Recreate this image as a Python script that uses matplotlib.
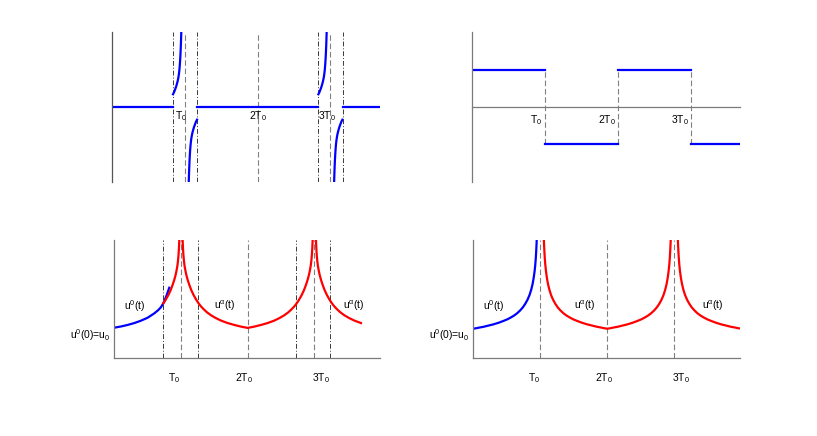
import numpy as np
import matplotlib.pyplot as plt

plt.rcParams['font.family'] = ['Liberation Sans', 'DejaVu Sans']
plt.rcParams['mathtext.fontset'] = 'custom'
plt.rcParams['mathtext.rm'] = 'Liberation Sans'
plt.rcParams['mathtext.it'] = 'Liberation Sans'
plt.rcParams['mathtext.default'] = 'regular'

# time is in units of T0
periods = [1, 2, 3]
tick_labels = ['T$_0$', '2T$_0$', '3T$_0$']

# top left: zero everywhere except around the poles at T0 and 3T0
flat_start = [0.0, 1.169, 3.169]
flat_end = [0.835, 2.834, 3.68]
pole_at = [1, 3]
pole_window = [0.835, 1.169, 2.834, 3.169]
pole_gap = [0.165, 0.150, 0.138, 0.125, 0.114, 0.103, 0.092, 0.084, 0.077,
            0.071, 0.066, 0.062, 0.058, 0.055, 0.052, 0.049]
pole_val = [0.17, 0.20, 0.23, 0.265, 0.30, 0.34, 0.39, 0.44, 0.50,
            0.57, 0.645, 0.72, 0.81, 0.89, 0.98, 1.08]

# top right: square wave
sq_start = [0, 1, 2, 3]
sq_end = [1, 2, 3, 3.67]
sq_level = [0.5, -0.5, 0.5, -0.5]

# bottom left: u0(t) in blue, u^alpha(t) read as distance to the nearest pole
bl_window = [0.735, 1.26, 2.73, 3.24]
bl_blue_t = [0, 0.1, 0.2, 0.3, 0.4, 0.5, 0.6, 0.66, 0.7, 0.735, 0.76, 0.786, 0.805, 0.825]
bl_blue_u = [0.259, 0.269, 0.282, 0.298, 0.318, 0.343, 0.380, 0.408, 0.432, 0.465,
             0.497, 0.535, 0.565, 0.597]
bl_gap = [1.00, 0.90, 0.80, 0.70, 0.60, 0.52, 0.45, 0.39, 0.34, 0.30, 0.265, 0.23,
          0.19, 0.155, 0.125, 0.10, 0.08, 0.065, 0.053, 0.044, 0.036, 0.030, 0.025, 0.021]
bl_val = [0.257, 0.268, 0.282, 0.298, 0.319, 0.341, 0.364, 0.389, 0.415, 0.439, 0.464,
          0.494, 0.534, 0.576, 0.621, 0.664, 0.706, 0.746, 0.785, 0.827, 0.879, 0.934,
          0.999, 1.073]

# bottom right
br_gap = [1.00, 0.95, 0.90, 0.85, 0.80, 0.75, 0.70, 0.62, 0.55, 0.49, 0.44, 0.39,
          0.345, 0.30, 0.26, 0.225, 0.19, 0.16, 0.135, 0.115, 0.098, 0.085, 0.075,
          0.067, 0.061, 0.056, 0.052, 0.049]
br_val = [0.250, 0.255, 0.261, 0.266, 0.273, 0.280, 0.287, 0.301, 0.316, 0.330, 0.345,
          0.362, 0.381, 0.405, 0.431, 0.460, 0.496, 0.536, 0.581, 0.628, 0.682, 0.736,
          0.790, 0.848, 0.906, 0.963, 1.021, 1.076]

BLUE = '#0000ff'
RED = '#ff0000'
AXC = '#7a7a7a'
DASH = dict(color='#808080', lw=0.8, dashes=(5, 2.5))
DASHDOT = dict(color='#3a3a3a', lw=0.7, dashes=(5, 2, 1, 2))
FS = 7.5


def rising(k, gap, val, gmax=10.0):
    g = np.array(gap)
    v = np.array(val)
    m = g <= gmax
    return k - g[m], v[m]


def falling(k, gap, val, gmax=10.0):
    g = np.array(gap)
    v = np.array(val)
    m = g <= gmax
    return (k + g[m])[::-1], v[m][::-1]


def clean(ax):
    for s in ['top', 'right']:
        ax.spines[s].set_visible(False)
    for s in ['left', 'bottom']:
        ax.spines[s].set_color(AXC)
        ax.spines[s].set_linewidth(0.9)
    ax.set_xticks([])
    ax.set_yticks([])
    ax.patch.set_alpha(0)


fig = plt.figure(figsize=(8.17, 4.36), dpi=100)

# ---------------- top left
ax = fig.add_axes([0.1375, 0.5833, 0.3274, 0.3427])
clean(ax)
ax.spines['bottom'].set_visible(False)
ax.spines['left'].set_color('#555555')
for x in pole_window:
    ax.axvline(x, **DASHDOT)
for x in periods:
    ax.axvline(x, **DASH)
for s, e in zip(flat_start, flat_end):
    ax.plot([s, e], [0, 0], color=BLUE, lw=1.6)
for k in pole_at:
    t, v = rising(k, pole_gap, pole_val)
    ax.plot(t, v, color=BLUE, lw=1.6)
    t, v = falling(k, pole_gap, pole_val)
    ax.plot(t, -v, color=BLUE, lw=1.6)
for x, lab in zip([0.862, 1.88, 2.834], tick_labels):
    ax.text(x, -0.03, lab, ha='left', va='top', fontsize=FS)
ax.set_xlim(0, 3.68)
ax.set_ylim(-1, 1)

# ---------------- top right
ax = fig.add_axes([0.5781, 0.5833, 0.3274, 0.3427])
clean(ax)
ax.spines['bottom'].set_position(('data', 0))
for x in periods:
    ax.plot([x, x], [-0.5, 0.5], **DASH)
for s, e, lv in zip(sq_start, sq_end, sq_level):
    ax.plot([s, e], [lv, lv], color=BLUE, lw=1.6)
for x, lab in zip([0.965, 1.965, 2.975], tick_labels):
    ax.text(x, -0.09, lab, ha='right', va='top', fontsize=FS)
ax.set_xlim(0, 3.67)
ax.set_ylim(-1, 1)

# ---------------- bottom left
ax = fig.add_axes([0.1399, 0.1782, 0.3256, 0.2713])
clean(ax)
for x in bl_window:
    ax.axvline(x, **DASHDOT)
for x in periods:
    ax.axvline(x, **DASH)
ax.plot(bl_blue_t, bl_blue_u, color=BLUE, lw=1.6)
t, v = rising(1, bl_gap, bl_val, 1 - bl_window[0])
ax.plot(t, v, color=RED, lw=1.6)
t1, v1 = falling(1, bl_gap, bl_val)
t2, v2 = rising(3, bl_gap, bl_val)
ax.plot(np.r_[t1, t2], np.r_[v1, v2], color=RED, lw=1.6)
t, v = falling(3, bl_gap, bl_val, 0.76)
ax.plot(t, v, color=RED, lw=1.6)
ax.text(0.145, 0.44, 'u$^0$(t)', ha='left', va='center', fontsize=FS)
ax.text(1.5, 0.44, r'u$^{\alpha}$(t)', ha='left', va='center', fontsize=FS)
ax.text(3.43, 0.44, r'u$^{\alpha}$(t)', ha='left', va='center', fontsize=FS)
ax.text(-0.06, 0.165, 'u$^0$(0)=u$_0$', ha='right', va='baseline', fontsize=FS)
for x, lab in zip([0.81, 1.81, 2.96], tick_labels):
    ax.text(x, -0.11, lab, ha='left', va='top', fontsize=FS)
ax.set_xlim(0, 3.99)
ax.set_ylim(0, 1)

# ---------------- bottom right
ax = fig.add_axes([0.5793, 0.1782, 0.3264, 0.2713])
clean(ax)
for x in periods:
    ax.axvline(x, **DASH)
t, v = rising(1, br_gap, br_val)
ax.plot(t, v, color=BLUE, lw=1.6)
t1, v1 = falling(1, br_gap, br_val)
t2, v2 = rising(3, br_gap, br_val)
ax.plot(np.r_[t1, t2], np.r_[v1, v2], color=RED, lw=1.6)
t, v = falling(3, br_gap, br_val)
ax.plot(t, v, color=RED, lw=1.6)
ax.text(0.15, 0.44, 'u$^0$(t)', ha='left', va='center', fontsize=FS)
ax.text(1.5, 0.44, r'u$^{\alpha}$(t)', ha='left', va='center', fontsize=FS)
ax.text(3.42, 0.44, r'u$^{\alpha}$(t)', ha='left', va='center', fontsize=FS)
ax.text(-0.06, 0.165, 'u$^0$(0)=u$_0$', ha='right', va='baseline', fontsize=FS)
for x, lab in zip([0.816, 1.816, 2.96], tick_labels):
    ax.text(x, -0.11, lab, ha='left', va='top', fontsize=FS)
ax.set_xlim(0, 3.98)
ax.set_ylim(0, 1)

fig.savefig('out.png', dpi=100)
